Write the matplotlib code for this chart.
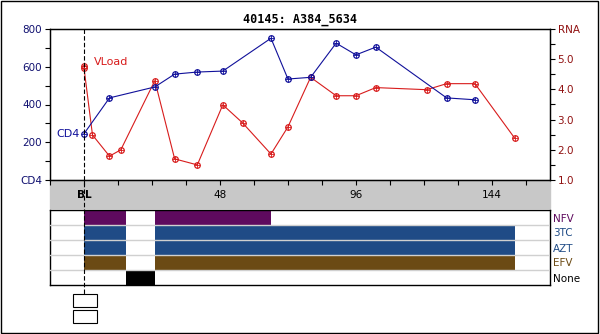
import matplotlib
matplotlib.use('Agg')
import matplotlib.pyplot as plt
from matplotlib.patches import Rectangle
from matplotlib.lines import Line2D
from matplotlib.transforms import blended_transform_factory

title = '40145: A384_5634'

# CD4 counts (cells/uL) by week
cd4_weeks = [0, 9, 25, 32, 40, 49, 66, 72, 80, 89, 96, 103, 128, 138]
cd4_vals = [245, 435, 493, 561, 572, 577, 751, 535, 544, 725, 663, 704, 435, 425]

# viral load (log10 RNA) by week
rna_weeks = [0, 0, 3, 9, 13, 25, 32, 40, 49, 56, 66, 72, 80, 89, 96, 103, 121, 128, 138, 152]
rna_vals = [4.78, 4.71, 2.49, 1.79, 2.0, 4.29, 1.70, 1.5, 3.49, 2.89, 1.86, 2.76,
            4.4, 3.79, 3.79, 4.06, 3.99, 4.19, 4.19, 2.39]

# treatment history, one row per drug: (start week, end week)
drug_names = ['NFV', '3TC', 'AZT', 'EFV', 'None']
drug_colors = ['#5e0a5e', '#1f4b86', '#1f4b86', '#6b4a14', '#000000']
drug_spans = [
    [(0, 15), (25, 66)],
    [(0, 15), (25, 152)],
    [(0, 15), (25, 152)],
    [(0, 15), (25, 152)],
    [(15, 25)],
]

week_ticks = [0, 48, 96, 144]
week_labels = ['BL', '48', '96', '144']

blue = '#10109a'
red = '#d81c1c'
W, H = 600, 334
plt.rcParams['font.family'] = 'DejaVu Sans'
plt.rcParams['font.size'] = 7.5


def box(x0, y0, x1, y1):
    return [x0 / W, 1 - y1 / H, (x1 - x0) / W, (y1 - y0) / H]


fig = plt.figure(figsize=(W / 100, H / 100), dpi=100)

ax = fig.add_axes(box(50, 29, 550, 180))
ax2 = ax.twinx()
axd = fig.add_axes(box(50, 210, 550, 285))

# CD4 line
ax.plot(cd4_weeks, cd4_vals, color=blue, lw=0.8, marker='o', ms=4,
        mfc='none', mec=blue, mew=0.9, zorder=3)
ax.plot(cd4_weeks, cd4_vals, ls='none', marker='+', ms=4.5, mec=blue, mew=0.6, zorder=3)
# RNA line
ax2.plot(rna_weeks, rna_vals, color=red, lw=0.8, marker='o', ms=4,
         mfc='none', mec=red, mew=0.9, zorder=3)
ax2.plot(rna_weeks, rna_vals, ls='none', marker='+', ms=4.5, mec=red, mew=0.6, zorder=3)

ax.set_xlim(-12, 164.5)
ax.set_ylim(0, 800)
ax2.set_ylim(1, 6)
ax.set_zorder(ax2.get_zorder() + 1)
ax.patch.set_visible(False)

ax.set_xticks(week_ticks)
ax.set_xticklabels(week_labels)
ax.set_xticks(range(-12, 165, 12), minor=True)
ax.tick_params(axis='x', which='both', direction='out', length=3.5, width=0.8, pad=4)
ax.get_xticklabels()[0].set_fontweight('bold')

ax.set_yticks([0, 200, 400, 600, 800])
ax.set_yticklabels(['CD4', '200', '400', '600', '800'], color='#101070')
ax.set_yticks(range(0, 801, 100), minor=True)
ax.tick_params(axis='y', which='both', direction='out', length=3.5, width=0.8, pad=2)

ax2.set_yticks([1, 2, 3, 4, 5, 6])
ax2.set_yticklabels(['1.0', '2.0', '3.0', '4.0', '5.0', 'RNA'], color='#901010')
ax2.set_yticks([1.5, 2.5, 3.5, 4.5, 5.5], minor=True)
ax2.tick_params(axis='y', which='both', direction='out', length=3.5, width=0.8, pad=2)

for a in (ax, ax2):
    for s in a.spines.values():
        s.set_linewidth(0.9)

ax.annotate('CD4', (cd4_weeks[0], cd4_vals[0]), xytext=(-4, 0),
            textcoords='offset pixels', ha='right', va='center', color=blue, fontsize=8)
ax2.annotate('VLoad', (rna_weeks[0], rna_vals[0]), xytext=(10, 4),
             textcoords='offset pixels', ha='left', va='center', color=red, fontsize=8)

fig.text(0.5, 1 - 19 / H, title, ha='center', va='center', family='DejaVu Sans Mono',
         fontweight='bold', fontsize=8.5)

# grey band behind the week axis
fig.add_artist(Rectangle((50 / W, 1 - 208 / H), 500 / W, 28 / H, transform=fig.transFigure,
                         color='#c8c8c8', zorder=-1))

# treatment panel
for i, (spans, col) in enumerate(zip(drug_spans, drug_colors)):
    axd.broken_barh([(s, e - s) for s, e in spans], (i, 1), facecolors=col, zorder=2)
for i in range(1, len(drug_names)):
    axd.axhline(i, color='#d0d0d0', lw=1, zorder=3)
axd.set_xlim(ax.get_xlim())
axd.set_ylim(len(drug_names), 0)
axd.set_xticks([])
axd.yaxis.tick_right()
axd.set_yticks([i + 0.5 for i in range(len(drug_names))])
axd.set_yticklabels(drug_names)
for lab, col in zip(axd.get_yticklabels(), drug_colors):
    lab.set_color(col)
axd.tick_params(axis='y', length=0, pad=2, labelsize=7.5)
for s in axd.spines.values():
    s.set_linewidth(1)

# baseline marker through every panel
bt = blended_transform_factory(ax.transData, fig.transFigure)
fig.add_artist(Line2D([0, 0], [1 - 29 / H, 1 - 294 / H], transform=bt, color='black',
                      lw=0.8, dashes=(4, 2)))
for top in (294, 310):
    fig.add_artist(Rectangle((-3.9, 1 - (top + 13) / H), 8.5, 13 / H, transform=bt,
                             fc='white', ec='black', lw=0.8))

fig.add_artist(Rectangle((0.5 / W, 1.5 / H), 597 / W, 332 / H, transform=fig.transFigure,
                         fill=False, ec='black', lw=1))

fig.savefig('out.png', dpi=100)
